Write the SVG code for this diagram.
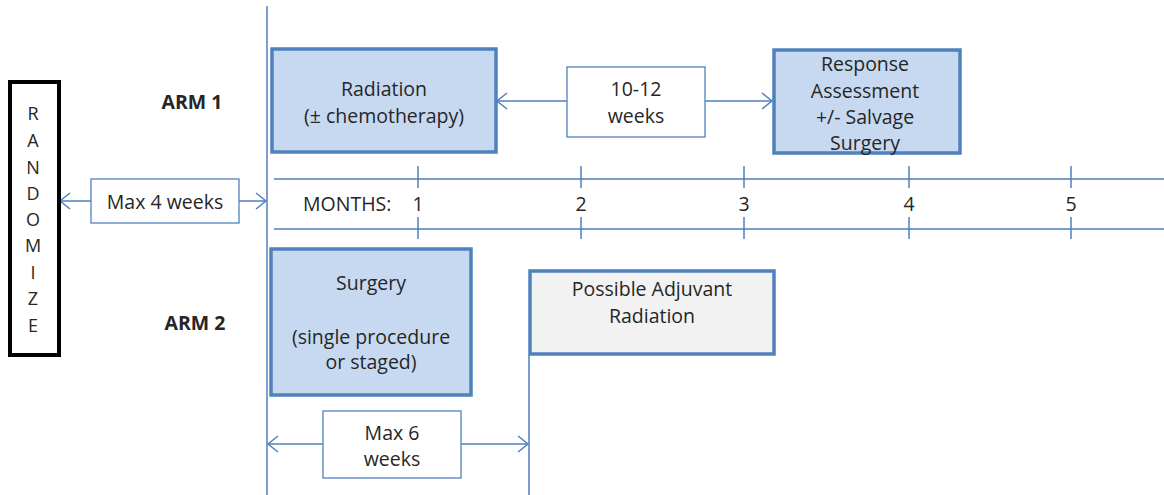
<svg xmlns="http://www.w3.org/2000/svg" width="1164" height="495" viewBox="0 0 1164 495">
<style>
  text { font-family: "Open Sans", Lato, "Liberation Sans", sans-serif; font-size: 19.5px; fill: #262626; text-anchor: middle; dominant-baseline: central; }
  .bold { font-weight: bold; }
  .box { fill: #c6d9f1; stroke: #4f81bd; stroke-width: 3.5; }
  .grey { fill: #f2f2f2; stroke: #4f81bd; stroke-width: 3.5; }
  .lbl { fill: #ffffff; stroke: #4f81bd; stroke-width: 1.3; }
  .ln { stroke: #4f81bd; stroke-width: 1.5; fill: none; }
  .arr { stroke: #4f81bd; stroke-width: 1.5; fill: none; marker-end: url(#ah); }
</style>
<defs>
  <marker id="ah" viewBox="-12 -9 14 18" refX="0" refY="0" markerWidth="14" markerHeight="18" markerUnits="userSpaceOnUse" orient="auto">
    <path d="M-10,-8 L0,0 L-10,8" fill="none" stroke="#4f81bd" stroke-width="1.5"/>
  </marker>
</defs>
<rect width="1164" height="495" fill="#ffffff"/>

<g id="connectors">
  <line class="ln" x1="267" y1="6" x2="267" y2="495"/>
  <line class="ln" x1="529" y1="355" x2="529" y2="495"/>
  <line class="arr" x1="91" y1="201" x2="60" y2="201"/>
  <line class="arr" x1="239" y1="201" x2="266" y2="201"/>
  <line class="arr" x1="567" y1="101" x2="497" y2="101"/>
  <line class="arr" x1="705" y1="101" x2="772" y2="101"/>
  <line class="arr" x1="323" y1="444" x2="268" y2="444"/>
  <line class="arr" x1="461" y1="444" x2="528" y2="444"/>
</g>

<g id="timeline">
  <line class="ln" x1="274" y1="179" x2="1164" y2="179"/>
  <line class="ln" x1="274" y1="229" x2="1164" y2="229"/>
  <g class="ln">
    <line x1="418" y1="166" x2="418" y2="188"/><line x1="418" y1="217" x2="418" y2="239"/>
    <line x1="581" y1="166" x2="581" y2="188"/><line x1="581" y1="217" x2="581" y2="239"/>
    <line x1="744" y1="166" x2="744" y2="188"/><line x1="744" y1="217" x2="744" y2="239"/>
    <line x1="909" y1="166" x2="909" y2="188"/><line x1="909" y1="217" x2="909" y2="239"/>
    <line x1="1071" y1="166" x2="1071" y2="188"/><line x1="1071" y1="217" x2="1071" y2="239"/>
  </g>
  <text x="303" y="203" style="text-anchor:start">MONTHS:</text>
  <text x="418" y="203">1</text>
  <text x="581" y="203">2</text>
  <text x="744" y="203">3</text>
  <text x="909" y="203">4</text>
  <text x="1071" y="203">5</text>
</g>

<g id="randomize">
  <rect x="10" y="82" width="49" height="273" fill="#ffffff" stroke="#000000" stroke-width="4"/>
  <text x="33" y="113" style="font-size:18px">R</text>
  <text x="33" y="140" style="font-size:18px">A</text>
  <text x="33" y="167" style="font-size:18px">N</text>
  <text x="33" y="193" style="font-size:18px">D</text>
  <text x="33" y="219" style="font-size:18px">O</text>
  <text x="33" y="245" style="font-size:18px">M</text>
  <text x="33" y="272" style="font-size:18px">I</text>
  <text x="33" y="298" style="font-size:18px">Z</text>
  <text x="33" y="325" style="font-size:18px">E</text>
</g>

<g id="arm1-label"><text class="bold" x="192" y="101">ARM 1</text></g>
<g id="arm2-label"><text class="bold" x="195" y="322">ARM 2</text></g>

<g id="max4">
  <rect class="lbl" x="91" y="179" width="148" height="44"/>
  <text x="165" y="201">Max 4 weeks</text>
</g>

<g id="radiation">
  <rect class="box" x="272" y="49" width="224" height="103"/>
  <text x="384" y="88">Radiation</text>
  <text x="384" y="115">(± chemotherapy)</text>
</g>

<g id="weeks1012">
  <rect class="lbl" x="567" y="67" width="138" height="70"/>
  <text x="636" y="88">10-12</text>
  <text x="636" y="115">weeks</text>
</g>

<g id="response">
  <rect class="box" x="774" y="50" width="186" height="103"/>
  <text x="865" y="63">Response</text>
  <text x="865" y="90">Assessment</text>
  <text x="865" y="116">+/- Salvage</text>
  <text x="865" y="142">Surgery</text>
</g>

<g id="surgery">
  <rect class="box" x="271" y="249" width="200" height="146"/>
  <text x="371" y="282">Surgery</text>
  <text x="371" y="336">(single procedure</text>
  <text x="371" y="361">or staged)</text>
</g>

<g id="adjuvant">
  <rect class="grey" x="530" y="271" width="244" height="83"/>
  <text x="652" y="288">Possible Adjuvant</text>
  <text x="652" y="315">Radiation</text>
</g>

<g id="max6">
  <rect class="lbl" x="323" y="411" width="138" height="67"/>
  <text x="392" y="432">Max 6</text>
  <text x="392" y="458">weeks</text>
</g>
</svg>
